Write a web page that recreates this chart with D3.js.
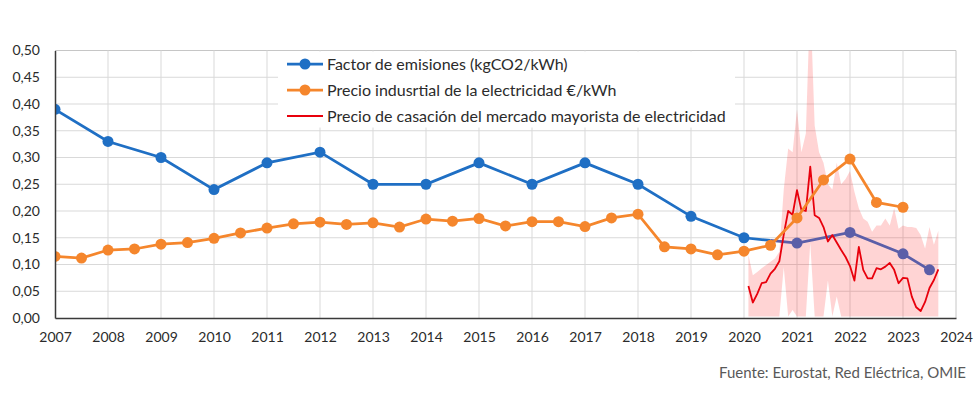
<!DOCTYPE html>
<html>
<head>
<meta charset="utf-8">
<script src="https://cdn.jsdelivr.net/npm/d3@7"></script>
<style>
  html, body { margin: 0; padding: 0; background: #fff; }
  svg { display: block; }
  text { font-family: Lato, "Liberation Sans", sans-serif; }
</style>
</head>
<body>
<svg id="chart" width="980" height="405"></svg>
<script>
// ---------------- DATA ----------------
const xTickYears = [2007,2008,2009,2010,2011,2012,2013,2014,2015,2016,2017,2018,2019,2020,2021,2022,2023,2024];
const yTickValues = [0,0.05,0.10,0.15,0.20,0.25,0.30,0.35,0.40,0.45,0.50];

// Factor de emisiones (blue, yearly)
const emisionYears  = [2007,2008,2009,2010,2011,2012,2013,2014,2015,2016,2017,2018,2019,2020];
const emisionValues = [0.39,0.33,0.30,0.24,0.29,0.31,0.25,0.25,0.29,0.25,0.29,0.25,0.19,0.15];
// Factor de emisiones, recent values (purple)
const emisionRecentYears  = [2020.5,2021,2022,2023,2023.5];
const emisionRecentValues = [0.145,0.14,0.16,0.12,0.09];

// Precio industrial (orange, half-yearly)
const precioYears = [2007,2007.5,2008,2008.5,2009,2009.5,2010,2010.5,2011,2011.5,2012,2012.5,2013,2013.5,2014,2014.5,2015,2015.5,2016,2016.5,2017,2017.5,2018,2018.5,2019,2019.5,2020,2020.5,2021,2021.5,2022,2022.5,2023];
const precioValues = [0.115,0.112,0.127,0.129,0.138,0.141,0.149,0.159,0.168,0.176,0.179,0.175,0.178,0.170,0.185,0.181,0.186,0.172,0.180,0.180,0.171,0.187,0.194,0.133,0.129,0.118,0.125,0.136,0.187,0.258,0.297,0.216,0.207];

// Precio de casación (red, monthly) and min/max band (pink)
const mercadoStart = 2020;
const mercadoValues = [0.060,0.029,0.045,0.065,0.067,0.083,0.092,0.106,0.156,0.200,0.193,0.239,
                       0.202,0.200,0.283,0.192,0.187,0.170,0.143,0.155,0.141,0.127,0.114,0.097,
                       0.070,0.133,0.090,0.074,0.074,0.093,0.091,0.096,0.103,0.090,0.065,0.075,
                       0.074,0.040,0.020,0.013,0.030,0.056,0.071,0.091];
const bandaMax = [0.118,0.080,0.086,0.093,0.099,0.105,0.111,0.124,0.240,0.317,0.310,0.390,
                  0.310,0.345,0.600,0.360,0.310,0.290,0.250,0.240,0.290,0.250,0.260,0.275,
                  0.236,0.205,0.186,0.180,0.161,0.173,0.173,0.186,0.173,0.205,0.167,0.173,
                  0.170,0.170,0.168,0.155,0.130,0.170,0.137,0.163];
const bandaMin = [0.003,0.003,0.003,0.003,0.003,0.003,0.003,0.003,0.095,0.003,0.015,0.003,
                  0.003,0.003,0.140,0.003,0.003,0.003,0.070,0.003,0.040,0.003,0.003,0.003,
                  0.003,0.003,0.003,0.003,0.003,0.003,0.003,0.003,0.003,0.003,0.003,0.003,
                  0.003,0.003,0.003,0.003,0.003,0.003,0.003,0.003];

const legendLabels = ["Factor de emisiones (kgCO2/kWh)",
                      "Precio indusrtial de la electricidad €/kWh",
                      "Precio de casación del mercado mayorista de electricidad"];
const sourceText = "Fuente: Eurostat, Red Eléctrica, OMIE";

// ---------------- STYLE ----------------
const C = {
  blue: "#1f6fc4", purple: "#5b5ea8", orange: "#f5862c", red: "#e8000c",
  band: "rgba(255,0,0,0.17)", grid: "#d9d9d9", axis: "#3a3a3a", border: "#c6c6c6", text: "#2b2b2b"
};

const svg = d3.select("#chart");
const x = d3.scaleLinear().domain([2007, 2024]).range([55, 956]);
const y = d3.scaleLinear().domain([0, 0.5]).range([318, 50.5]);
const locale = d3.formatLocale({decimal: ",", thousands: ".", grouping: [3], currency: ["", "€"]});
const fmt = locale.format(".2f");

// clip
svg.append("clipPath").attr("id", "plotclip").append("rect")
  .attr("x", x(2007)).attr("y", y(0.5)).attr("width", x(2024) - x(2007)).attr("height", y(0) - y(0.5));

// gridlines
const grid = svg.append("g");
grid.selectAll("line.h").data(yTickValues.filter(v => v > 0)).join("line")
  .attr("x1", x(2007)).attr("x2", x(2024)).attr("y1", d => y(d)).attr("y2", d => y(d))
  .attr("stroke", d => d === 0.5 ? C.border : C.grid).attr("stroke-width", 1);
grid.selectAll("line.v").data(xTickYears.filter(v => v > 2007)).join("line")
  .attr("x1", d => x(d)).attr("x2", d => x(d)).attr("y1", y(0)).attr("y2", y(0.5))
  .attr("stroke", d => d === 2024 ? C.border : C.grid).attr("stroke-width", 1);

// legend background (covers the grid)
const legendG = svg.append("g");
legendG.append("rect").attr("x", 278).attr("y", y(0.5) + 1).attr("width", 457).attr("height", 76).attr("fill", "#fff");

// band + market line
const mx = (d, i) => x(mercadoStart + (i + 1) / 12);
const plot = svg.append("g").attr("clip-path", "url(#plotclip)");
plot.append("path").datum(bandaMax)
  .attr("d", d3.area().x(mx).y0((d, i) => y(bandaMin[i])).y1(d => y(d)))
  .attr("fill", C.band);

// emissions lines
const emisLine = emisionValues.map((v, i) => [emisionYears[i], v]).concat([[emisionRecentYears[0], emisionRecentValues[0]]]);
const recentLine = emisionRecentValues.map((v, i) => [emisionRecentYears[i], v]);
const line = d3.line().x(d => x(d[0])).y(d => y(d[1]));
plot.append("path").datum(recentLine).attr("d", line).attr("fill", "none").attr("stroke", C.purple).attr("stroke-width", 2.75);
plot.append("path").datum(emisLine).attr("d", line).attr("fill", "none").attr("stroke", C.blue).attr("stroke-width", 2.75);
plot.selectAll("circle.e").data(emisionValues).join("circle")
  .attr("cx", (d, i) => x(emisionYears[i])).attr("cy", d => y(d)).attr("r", 5.5).attr("fill", C.blue);
plot.selectAll("circle.r").data(recentLine.slice(1)).join("circle")
  .attr("cx", d => x(d[0])).attr("cy", d => y(d[1])).attr("r", 5.5).attr("fill", C.purple);

// red market line
plot.append("path").datum(mercadoValues)
  .attr("d", d3.line().x(mx).y(d => y(d)))
  .attr("fill", "none").attr("stroke", C.red).attr("stroke-width", 1.8).attr("stroke-linejoin", "round");

// orange price line
const precioLine = precioValues.map((v, i) => [precioYears[i], v]);
plot.append("path").datum(precioLine).attr("d", line).attr("fill", "none").attr("stroke", C.orange).attr("stroke-width", 2.75);
plot.selectAll("circle.p").data(precioLine).join("circle")
  .attr("cx", d => x(d[0])).attr("cy", d => y(d[1])).attr("r", 5.5).attr("fill", C.orange);

// axes
const yAxis = svg.append("g").attr("transform", `translate(${x(2007)},0)`)
  .call(d3.axisLeft(y).tickValues(yTickValues).tickFormat(fmt).tickSize(0).tickPadding(15));
yAxis.select(".domain").attr("stroke", C.axis).attr("stroke-width", 1.5);
yAxis.selectAll("text").attr("font-size", 14).attr("fill", C.text).attr("font-family", "Lato, sans-serif");

const xAxis = svg.append("g").attr("transform", `translate(0,${y(0)})`)
  .call(d3.axisBottom(x).tickValues(xTickYears).tickFormat(d3.format("d")).tickSize(0).tickPadding(14));
xAxis.select(".domain").attr("stroke", C.axis).attr("stroke-width", 1.5);
xAxis.selectAll("text").attr("font-size", 14).attr("fill", C.text).attr("font-family", "Lato, sans-serif");

// legend
const legendColors = [C.blue, C.orange, C.red];
const legendRows = legendG.selectAll("g.row").data(legendLabels).join("g")
  .attr("transform", (d, i) => `translate(287,${64 + i * 26})`);
legendRows.append("line").attr("x1", 0).attr("x2", 36).attr("y1", 0).attr("y2", 0)
  .attr("stroke", (d, i) => legendColors[i]).attr("stroke-width", (d, i) => i === 2 ? 2 : 2.75);
legendRows.filter((d, i) => i < 2).append("circle").attr("cx", 18).attr("cy", 0).attr("r", 5.5)
  .attr("fill", (d, i) => legendColors[i]);
legendRows.append("text").attr("x", 40).attr("y", 0).attr("dy", "0.35em")
  .attr("font-size", 16).attr("fill", C.text).text(d => d);

// source
svg.append("text").attr("x", 966).attr("y", 378).attr("text-anchor", "end")
  .attr("font-size", 15).attr("fill", "#595959").text(sourceText);
</script>
</body>
</html>
